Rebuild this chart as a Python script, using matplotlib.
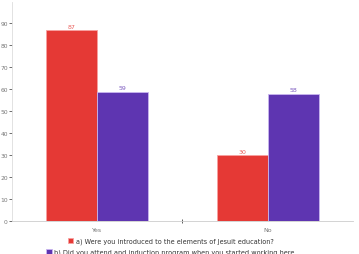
import matplotlib
matplotlib.use("Agg")
import matplotlib.pyplot as plt
import numpy as np

categories = ["Yes", "No"]
series_names = ["a) Were you introduced to the elements of Jesuit education?",
                "b) Did you attend and induction program when you started working here"]
series_a = [87, 30]
series_b = [59, 58]
colors = ["#E53935", "#5E35B1"]
edges = ["#F8A0A0", "#C9B6F0"]

fig = plt.figure(figsize=(3.59, 2.55), dpi=100)
ax = fig.add_axes([0.0334, 0.1294, 0.9496, 0.8606])
x = np.arange(len(categories))
w = 0.3
handles = []
for i, (vals, c, e) in enumerate(zip([series_a, series_b], colors, edges)):
    pos = x + (i - 0.5) * w
    bars = ax.bar(pos, vals, w, color=c, edgecolor=e, linewidth=0.6, label=series_names[i])
    handles.append(bars)
    for p, v in zip(pos, vals):
        ax.text(p, v + 0.6, str(v), ha="center", va="bottom", fontsize=4.5, color=c, alpha=0.8)

ax.set_xlim(-0.5, 1.5)
ax.set_ylim(0, 100)
ax.set_yticks(range(0, 100, 10))
ax.set_xticks(x)
ax.set_xticklabels(categories)
ax.set_xticks([0.5], minor=True)
ax.tick_params(axis="x", which="major", length=0, labelsize=4.5, labelcolor="#777777", pad=4)
ax.tick_params(axis="x", which="minor", length=3, color="#444444", width=0.6, direction="inout")
ax.tick_params(axis="y", length=2, labelsize=4.3, labelcolor="#777777", color="#555555", width=0.6, pad=1)
for s in ["top", "right"]:
    ax.spines[s].set_visible(False)
ax.spines["left"].set_color("#dddddd")
ax.spines["left"].set_linewidth(0.6)
ax.spines["bottom"].set_color("#cccccc")
ax.spines["bottom"].set_linewidth(0.6)

for i, (h, yy) in enumerate(zip(handles, [0.052, 0.007])):
    leg = fig.legend([h], [series_names[i]], loc="center", bbox_to_anchor=(0.475, yy),
                     fontsize=4.7, frameon=False, handlelength=0.8, handleheight=0.9,
                     handletextpad=0.4, borderpad=0, borderaxespad=0)
    for t in leg.get_texts():
        t.set_color("#333333")
fig.savefig("out.png", dpi=100)
